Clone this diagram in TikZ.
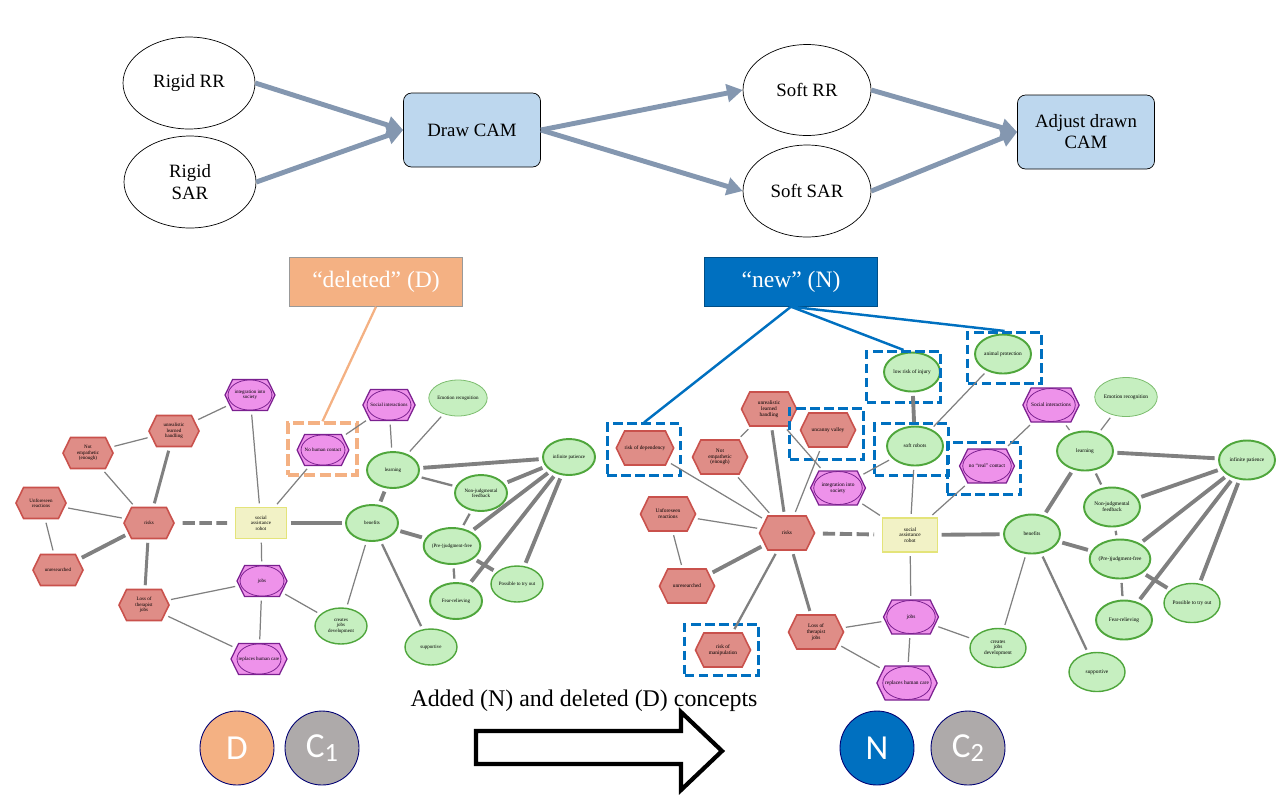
\documentclass[tikz,border=0pt]{standalone}
\usepackage{fontspec}
\setmainfont{Liberation Serif}
\newfontfamily\carlito{Carlito}
\usetikzlibrary{shapes.geometric,shapes.symbols,arrows.meta}

\definecolor{flowgray}{HTML}{8497B0}
\definecolor{boxblue}{HTML}{BDD7EE}
\definecolor{delorange}{HTML}{F4B183}
\definecolor{newblue}{HTML}{0070C0}
\definecolor{cgray}{HTML}{AEAAAA}
\definecolor{redfill}{HTML}{DF8D87}
\definecolor{redline}{HTML}{C9514C}
\definecolor{purfill}{HTML}{EE92EA}
\definecolor{purline}{HTML}{7B2090}
\definecolor{grnfill}{HTML}{C6EFC0}
\definecolor{grnline}{HTML}{4FA63C}
\definecolor{yelfill}{HTML}{F2F2C6}
\definecolor{yelline}{HTML}{E4E47A}
\definecolor{edgegray}{HTML}{808080}

\begin{document}
\begin{tikzpicture}[x=0.02cm,y=-0.02cm,
    flowell/.style={ellipse,draw=black,line width=0.4pt,fill=white,inner sep=0pt,
      align=center,font=\fontsize{10.7}{13}\selectfont},
    flowbox/.style={rectangle,rounded corners=0.16cm,draw=black,line width=0.4pt,fill=boxblue,
      minimum width=2.74cm,minimum height=1.48cm,align=center,font=\fontsize{10.7}{12}\selectfont},
    flowarr/.style={draw=flowgray,line width=2.8pt,-{Triangle[length=9pt,width=10pt]}},
    lab/.style={rectangle,minimum width=3.47cm,minimum height=0.97cm,text=white,
      line width=0.5pt,font=\fontsize{13.4}{15}\selectfont},
    camL/.style={font=\fontsize{2.85}{3.1}\selectfont,align=center,inner sep=0pt},
    camR/.style={font=\fontsize{3.05}{3.3}\selectfont,align=center,inner sep=0pt},
    hexL/.style={camL,signal,signal to=east and west,signal pointer angle=128,
      minimum width=1cm,minimum height=0.62cm},
    hexR/.style={camR,signal,signal to=east and west,signal pointer angle=128,
      minimum width=1.1cm,minimum height=0.68cm},
    red/.style={fill=redfill,draw=redline,line width=0.9pt},
    pur/.style 2 args={fill=purfill,draw=purline,line width=0.7pt,
      path picture={\draw[purline,line width=0.45pt] (path picture bounding box.center)
        ellipse [x radius=#1,y radius=#2];}},
    ellL/.style={camL,ellipse,minimum width=1.04cm,minimum height=0.72cm},
    ellR/.style={camR,ellipse,minimum width=1.12cm,minimum height=0.78cm},
    grn/.style={fill=grnfill,draw=grnline,line width=1.1pt},
    grnmid/.style={grn,line width=0.8pt},
    grnthin/.style={grn,draw=grnline!75,line width=0.45pt},
    sar/.style={rectangle,fill=yelfill,draw=yelline,line width=0.8pt},
    ln/.style={draw=edgegray,line width=0.7pt,shorten <=2pt,shorten >=2pt},
    lm/.style={ln,line width=1.3pt},
    lk/.style={ln,line width=1.7pt},
    lt/.style={ln,line width=2.2pt},
    ld/.style={lt,shorten <=4.4pt,shorten >=4.4pt,dash pattern=on 7pt off 2.6pt},
    delbox/.style={draw=delorange,line width=2pt,dash pattern=on 6.5pt off 2.5pt,
      minimum width=1.38cm,minimum height=1.04cm,inner sep=0pt},
    newbox/.style={draw=newblue,line width=1.5pt,dash pattern=on 5.5pt off 2.5pt,
      minimum width=1.47cm,minimum height=1.03cm,inner sep=0pt},
    bigc/.style={circle,minimum size=1.48cm,draw=black!55!blue,line width=0.5pt,inner sep=0pt,
      text=white,font=\carlito\fontsize{20}{22}\selectfont}]
  \useasboundingbox (0,0) rectangle (1280,796);

  % process at the top
  \node[flowell,minimum width=2.64cm,minimum height=1.84cm] (rigrr) at (189,83) {Rigid RR};
  \node[flowell,minimum width=2.64cm,minimum height=1.84cm] (rigsar) at (190,182) {Rigid\\SAR};
  \node[flowbox] (drawcam) at (472,130) {Draw CAM};
  \node[flowell,minimum width=2.56cm,minimum height=1.82cm] (softrr) at (807,90) {Soft RR};
  \node[flowell,minimum width=2.56cm,minimum height=1.84cm] (softsar) at (807,191) {Soft SAR};
  \node[flowbox] (adjcam) at (1086,132) {Adjust drawn\\CAM};
  \draw[flowarr] (rigrr.east) -- (drawcam.west);
  \draw[flowarr] (rigsar.east) -- (drawcam.west);
  \draw[flowarr] (drawcam.east) -- (softrr.west);
  \draw[flowarr] (drawcam.east) -- (softsar.west);
  \draw[flowarr] (softrr.east) -- (adjcam.west);
  \draw[flowarr] (softsar.east) -- (adjcam.west);

  % labels
  \node[lab,fill=delorange,draw=gray!80] (dellab) at (376,282) {“deleted” (D)};
  \node[lab,fill=newblue,draw=newblue!70!black] (newlab) at (791,282) {“new” (N)};

  % first CAM (C1)
  \node[hexL,pur={12.5pt}{8.6pt}] (Lint) at (250,395) {integration into\\society};
  \node[hexL,red] (Lunr) at (174,431) {unrealistic\\learned\\handling};
  \node[hexL,red] (Lemp) at (88,453) {Not\\empathetic\\(enough)};
  \node[hexL,red] (Lunf) at (41,503) {Unforeseen\\reactions};
  \node[hexL,red] (Lrisk) at (149,523) {risks};
  \node[camL,sar,minimum width=1.02cm,minimum height=0.62cm] (Lsar) at (261,523) {social\\assistance\\robot};
  \node[hexL,pur={12.5pt}{8.6pt}] (Lnhc) at (323,450) {No human contact};
  \node[hexL,pur={12.5pt}{8.6pt}] (Lsoc) at (389,405) {Social interactions};
  \node[ellL,grnthin] (Lemo) at (458,398) {Emotion recognition};
  \node[ellL,grn] (Llearn) at (393,470) {learning};
  \node[ellL,grn] (Linf) at (569,457) {infinite patience};
  \node[ellL,grn] (Lnon) at (481,493) {Non-judgmental\\feedback};
  \node[ellL,grn] (Lben) at (372,523) {benefits};
  \node[ellL,grn] (Lpre) at (452,546) {(Pre-)judgment-free};
  \node[ellL,grn] (Lfear) at (456,601) {Fear-relieving};
  \node[ellL,grnmid] (Lposs) at (517,584) {Possible to try out};
  \node[ellL,grnmid] (Lsup) at (431,647) {supportive};
  \node[ellL,grnmid] (Lcre) at (341,626) {creates\\jobs\\development};
  \node[hexL,red] (Lunres) at (58,570) {unresearched};
  \node[hexL,red] (Lloss) at (144,605) {Loss of\\therapist\\jobs};
  \node[hexL,pur={12.5pt}{8.6pt}] (Ljobs) at (262,581) {jobs};
  \node[hexL,pur={12.5pt}{8.6pt}] (Lrep) at (259,659) {replaces human care};
  \node[delbox] (Ldel) at (322.5,449) {};

  \foreach \a/\b in {Lunr/Lint,Lemp/Lunr,Lemp/Lrisk,Lunf/Lrisk,Lunf/Lunres,Lint/Lsar,
      Lnhc/Lsar,Lnhc/Lsoc,Lloss/Ljobs,Lloss/Lrep,Ljobs/Lrep,Lsar/Ljobs,Ljobs/Lcre,
      Lben/Lcre,Llearn/Lsoc,Llearn/Lemo}
    \draw[ln] (\a) -- (\b);
  \foreach \a/\b in {Lben/Lsup,Llearn/Lnon,Lpre/Lfear,Lnon/Lpre}
    \draw[lm] (\a) -- (\b);
  \foreach \a/\b in {Lunr/Lrisk,Lrisk/Lloss}
    \draw[lk] (\a) -- (\b);
  \foreach \a/\b in {Lunres/Lrisk,Lsar/Lben,Lben/Llearn,Lben/Lpre,Llearn/Linf,Lnon/Linf,
      Lpre/Linf,Lfear/Linf,Lposs/Linf,Lpre/Lposs}
    \draw[lt] (\a) -- (\b);
  \draw[ld] (Lrisk) -- (Lsar);
  \draw[delorange,line width=1.3pt] (dellab.south) -- (Ldel.north);

  % second CAM (C2)
  \node[ellR,grn] (Rinj) at (912,372) {low risk of injury};
  \node[hexR,red] (Runr) at (769,409) {unrealistic\\learned\\handling};
  \node[hexR,red] (Runc) at (828,430) {uncanny valley};
  \node[hexR,red] (Rdep) at (645,448) {risk of dependency};
  \node[hexR,red] (Remp) at (720,457) {Not\\empathetic\\(enough)};
  \node[ellR,grn] (Rsoft) at (915,446) {soft robots};
  \node[hexR,pur={13.8pt}{9.4pt}] (Rint) at (838,488) {integration into\\society};
  \node[hexR,red] (Runf) at (668,514) {Unforeseen\\reactions};
  \node[hexR,red] (Rrisk) at (787,533) {risks};
  \node[camR,sar,minimum width=1.1cm,minimum height=0.68cm] (Rsar) at (910,535) {social\\assistance\\robot};
  \node[hexR,red] (Runres) at (687,586) {unresearched};
  \node[hexR,red] (Rman) at (723,650) {risk of\\manipulation};
  \node[hexR,red] (Rloss) at (816,632) {Loss of\\therapist\\jobs};
  \node[hexR,pur={13.8pt}{9.4pt}] (Rjobs) at (911,617) {jobs};
  \node[hexR,pur={13.8pt}{9.4pt}] (Rrep) at (907,683) {replaces human care};
  \node[ellR,grn] (Rani) at (1003,354) {animal protection};
  \node[hexR,pur={13.8pt}{9.4pt}] (Rsoc) at (1051,405) {Social interactions};
  \node[ellR,grnthin] (Remo) at (1126,397) {Emotion recognition};
  \node[ellR,grn] (Rlearn) at (1085,451) {learning};
  \node[ellR,grn] (Rinf) at (1247,460) {infinite patience};
  \node[hexR,pur={13.8pt}{9.4pt}] (Rreal) at (987,466) {no “real” contact};
  \node[ellR,grn] (Rnon) at (1112,507) {Non-judgmental\\feedback};
  \node[ellR,grn] (Rben) at (1032,534) {benefits};
  \node[ellR,grn] (Rpre) at (1120,559) {(Pre-)judgment-free};
  \node[ellR,grn] (Rfear) at (1124,620) {Fear-relieving};
  \node[ellR,grnmid] (Rposs) at (1192,603) {Possible to try out};
  \node[ellR,grnmid] (Rcre) at (998,648) {creates\\jobs\\development};
  \node[ellR,grnmid] (Rsup) at (1097,672) {supportive};

  \node[newbox] (Ndep) at (644,449.5) {};
  \node[newbox] (Ninj) at (903.5,377) {};
  \node[newbox] (Nani) at (1004.5,358) {};
  \node[newbox] (Nunc) at (826.5,434) {};
  \node[newbox] (Nsoft) at (911.5,449.5) {};
  \node[newbox] (Nreal) at (984,468.5) {};
  \node[newbox] (Nman) at (721.5,650) {};

  \foreach \a/\b in {Runr/Rint,Remp/Runr,Runc/Rrisk,Rdep/Rrisk,Remp/Rrisk,Rsoft/Rsar,
      Rint/Rsoft,Rint/Rsar,Rani/Rsoft,Rsoc/Rreal,Rreal/Rsar,Rsoc/Rlearn,Remo/Rlearn,
      Rben/Rcre,Rjobs/Rcre,Runf/Rrisk,Runf/Runres,Rloss/Rjobs,Rloss/Rrep,Rsar/Rjobs,Rjobs/Rrep}
    \draw[ln] (\a) -- (\b);
  \foreach \a/\b in {Rlearn/Rnon,Rpre/Rfear,Rben/Rsup,Rrisk/Rman,Rnon/Rpre}
    \draw[lm] (\a) -- (\b);
  \foreach \a/\b in {Runr/Rrisk,Rrisk/Rloss}
    \draw[lk] (\a) -- (\b);
  \foreach \a/\b in {Rinj/Rsoft,Runres/Rrisk,Rsar/Rben,Rlearn/Rben,Rben/Rpre,Rlearn/Rinf,
      Rnon/Rinf,Rpre/Rinf,Rfear/Rinf,Rposs/Rinf,Rpre/Rposs}
    \draw[lt] (\a) -- (\b);
  \draw[ld] (Rrisk) -- (Rsar);
  \draw[newblue,line width=1.4pt] (newlab.south) -- (Ndep.north);
  \draw[newblue,line width=1.4pt] (newlab.south) -- (Ninj.north);
  \draw[newblue,line width=1.4pt] (newlab.south) -- (Nani.north);

  % bottom row
  \node[bigc,fill=delorange] (cD) at (237,748) {D};
  \node[bigc,fill=cgray] (cC1) at (322,748) {C{\fontsize{15}{15}\selectfont\raisebox{-0.3ex}{1}}};
  \node[bigc,fill=newblue] (cN) at (877,748) {N};
  \node[bigc,fill=cgray] (cC2) at (968,748) {C{\fontsize{15}{15}\selectfont\raisebox{-0.3ex}{2}}};
  \node[font=\fontsize{13.6}{15}\selectfont] (added) at (584,701) {Added (N) and deleted (D) concepts};
  \draw[line width=2.4pt,fill=white] (476,731) -- (681,731) -- (681,712) -- (722,751)
    -- (681,790) -- (681,764) -- (476,764) -- cycle;
\end{tikzpicture}
\end{document}
